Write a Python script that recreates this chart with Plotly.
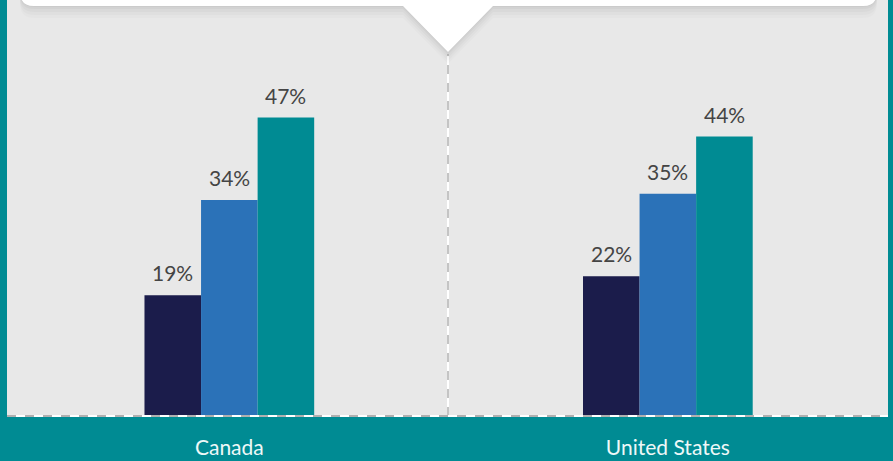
import plotly.graph_objects as go

countries = ["Canada", "United States"]
series_names = ["Group 1", "Group 2", "Group 3"]
series_values = [
    [19, 22],
    [34, 35],
    [47, 44],
]
series_colors = ["#1b1c4b", "#2b72b8", "#008b93"]

TEAL = "#008b93"
BG = "#e8e8e8"
W, H = 893, 461
ML, MR, MT, MB = 7, 5, 0, 45
PW, PH = W - ML - MR, H - MT - MB
BAR_W = 0.129


def px(x):
    return (x - ML) / PW


def py(y):
    return (PH - (y - MT)) / PH


fig = go.Figure()

for i, (name, vals, col) in enumerate(zip(series_names, series_values, series_colors)):
    fig.add_trace(go.Bar(x=list(range(len(countries))), y=vals, name=name,
                         marker=dict(color=col, line=dict(width=0)),
                         width=BAR_W, offset=(i - 1.5) * BAR_W))
    for j, v in enumerate(vals):
        fig.add_annotation(x=j + (i - 1) * BAR_W, y=v, text=f"{v}%", showarrow=False,
                           yanchor="bottom", yshift=8,
                           font=dict(family="Lato", size=21, color="#444444", weight=400))

# speech bubble path at top
def bubble(dy=0):
    r = 14
    top = -30
    b = 6 + dy
    pts = [
        f"M {px(20)},{py(top)}",
        f"L {px(20)},{py(b - r)}",
        f"Q {px(20)},{py(b)} {px(20 + r)},{py(b)}",
        f"L {px(403)},{py(b)}",
        f"L {px(448)},{py(52 + dy)}",
        f"L {px(493)},{py(b)}",
        f"L {px(877 - r)},{py(b)}",
        f"Q {px(877)},{py(b)} {px(877)},{py(b - r)}",
        f"L {px(877)},{py(top)} Z",
    ]
    return " ".join(pts)


shapes = []
for k, op in [(12, 0.015), (9, 0.02), (6, 0.025), (3, 0.03), (1, 0.03)]:
    shapes.append(dict(type="path", xref="paper", yref="paper", path=bubble(k),
                       fillcolor=f"rgba(0,0,0,{op})", line=dict(width=0), layer="above"))
shapes.append(dict(type="path", xref="paper", yref="paper", path=bubble(0),
                   fillcolor="white", line=dict(width=0), layer="above"))

# divider
for col, dash in [("white", "solid"), ("#c4c4c4", "dash")]:
    shapes.append(dict(type="line", xref="paper", yref="paper", x0=px(448), x1=px(448),
                       y0=0, y1=py(54), line=dict(color=col, width=2, dash=dash), layer="below"))
# baseline
for col, dash in [("white", "solid"), ("#b0b0b0", "dash")]:
    shapes.append(dict(type="line", xref="paper", yref="paper", x0=0, x1=1,
                       y0=0, y1=0, line=dict(color=col, width=2, dash=dash), layer="above"))

fig.update_layout(
    width=W, height=H,
    margin=dict(l=ML, r=MR, t=MT, b=MB),
    paper_bgcolor=TEAL, plot_bgcolor=BG,
    barmode="overlay", showlegend=False,
    shapes=shapes,
    xaxis=dict(range=[-0.507, 1.502], tickmode="array", tickvals=list(range(len(countries))),
               ticktext=countries, showgrid=False, zeroline=False, showline=False,
               ticks="", ticklabelstandoff=17, automargin=False,
               tickfont=dict(family="Lato", size=21, color="#eef8f8", weight=400)),
    yaxis=dict(range=[0, 65.5], visible=False, showgrid=False, zeroline=False,
               automargin=False),
)

fig.write_html("out.html", config={"displayModeBar": False},
               post_script="document.body.style.margin='0';document.body.style.overflow='hidden';")
